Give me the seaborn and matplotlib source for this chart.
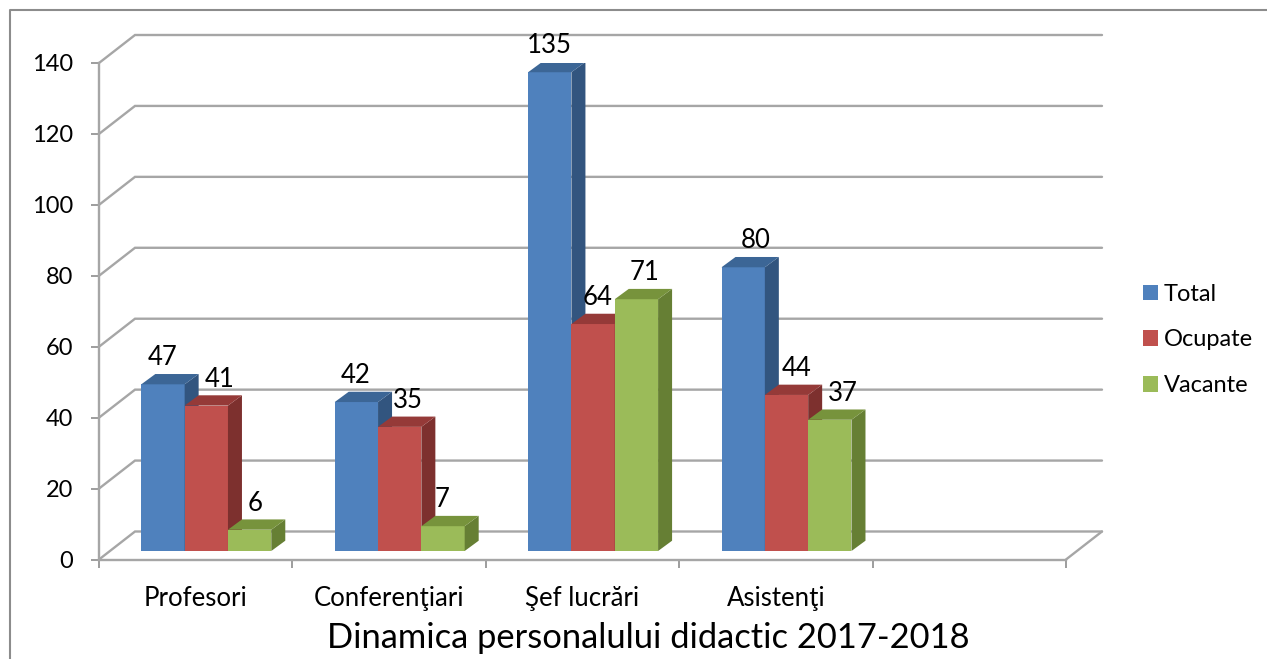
import matplotlib
matplotlib.use("Agg")
import matplotlib.pyplot as plt
import pandas as pd
import seaborn as sns
from matplotlib.lines import Line2D
from matplotlib.patches import Patch, Polygon

categories = ["Profesori", "Conferenţiari", "Şef lucrări", "Asistenţi"]
total = [47, 42, 135, 80]
ocupate = [41, 35, 64, 44]
vacante = [6, 7, 71, 37]
series_names = ["Total", "Ocupate", "Vacante"]
front_colors = ["#4F81BD", "#C0504D", "#9BBB59"]
top_colors = ["#3C6696", "#953A38", "#77933C"]
side_colors = ["#32557F", "#7D302E", "#667F34"]
y_ticks = [0, 20, 40, 60, 80, 100, 120, 140]
title = "Dinamica personalului didactic 2017-2018"
label_dx_px = [[0, -1, 0, 13], [13, 8, 4, 10], [6, -1, 8, 13]]

W, H = 1267, 659
L, R, B0, T0 = 99, 1066, 559.5, 63

sns.set_theme(style="white")
plt.rcParams["font.family"] = ["Lato", "DejaVu Sans"]
FS_Y = 17
FS_CAT = 18.5
FS_VAL = 18.5
FS_LEG = 17
GRAY = "#A6A6A6"

df = pd.DataFrame({
    "cat": categories * 3,
    "series": [s for s in series_names for _ in categories],
    "val": total + ocupate + vacante,
})

fig = plt.figure(figsize=(W / 100, H / 100), dpi=100, facecolor="white")
ax = fig.add_axes([L / W, (H - B0) / H, (R - L) / W, (B0 - T0) / H])
order = categories + [" "]
sns.barplot(data=df, x="cat", y="val", hue="series", order=order,
            hue_order=series_names, palette=front_colors, width=0.672,
            saturation=1, legend=False, ax=ax, linewidth=0, errorbar=None)
ax.set_xlim(-0.5, 4.5)
ax.set_ylim(0, 140)
ax.set_xlabel("")
ax.set_ylabel("")
ax.patch.set_alpha(0)

xpx = 5 / (R - L)          # data units per pixel
ypx = 140 / (B0 - T0)

# back wall, side wall and floor
WX, WY = 36 * xpx, 28 * ypx
for v in y_ticks:
    ax.plot([-0.5, -0.5 + WX, 4.5 + WX], [v, v + WY, v + WY], color=GRAY,
            lw=1.7, clip_on=False, zorder=1, solid_joinstyle="miter")
ax.plot([4.5, 4.5 + WX], [0, WY], color=GRAY, lw=1.7, clip_on=False, zorder=1)

# bars with their depth
SX, SY = 10.6 * xpx, 8.5 * ypx
DX, DY = 14 * xpx, 10.3 * ypx
for h, container in enumerate(ax.containers):
    z = 3 + h
    for i, patch in enumerate(container):
        v = patch.get_height()
        if not v == v:
            continue
        x0 = patch.get_x() + SX
        w = patch.get_width()
        patch.set_x(x0)
        patch.set_y(SY)
        patch.set_zorder(z)
        patch.set_linewidth(0)
        top = SY + v
        ax.add_patch(Polygon([(x0 + w, SY), (x0 + w + DX, SY + DY),
                              (x0 + w + DX, top + DY), (x0 + w, top)],
                             closed=True, fc=side_colors[h], ec="none", zorder=z))
        ax.add_patch(Polygon([(x0, top), (x0 + DX, top + DY),
                              (x0 + w + DX, top + DY), (x0 + w, top)],
                             closed=True, fc=top_colors[h], ec="none", zorder=z))
        ax.text(x0 + w / 2 + label_dx_px[h][i] * xpx, top + 19 * ypx, f"{v:.0f}",
                ha="center", va="baseline", fontsize=FS_VAL, color="black", zorder=10)

# axes
for s in ("top", "right"):
    ax.spines[s].set_visible(False)
for s in ("left", "bottom"):
    ax.spines[s].set_color(GRAY)
    ax.spines[s].set_linewidth(1.7)
    ax.spines[s].set_zorder(2)
ax.set_yticks(y_ticks)
ax.tick_params(axis="y", which="major", left=True, length=6, width=1.2, color="#8C8C8C",
               pad=12.7, labelsize=FS_Y, labelcolor="black")
ax.set_xticks([i - 0.5 for i in range(6)])
ax.set_xticklabels([])
ax.tick_params(axis="x", which="major", bottom=True, length=6, width=1.2, color="#8C8C8C")
ax.set_xticks(range(len(categories)), minor=True)
ax.set_xticklabels(categories, minor=True)
ax.tick_params(axis="x", which="minor", bottom=False, length=0, pad=19,
               labelsize=FS_CAT, labelcolor="black")

# legend
handles = [Patch(fc=c, ec="none", label=n) for c, n in zip(front_colors, series_names)]
fig.legend(handles=handles, loc="center left", bbox_to_anchor=(1143 / W, 1 - 340 / H),
           frameon=False, fontsize=FS_LEG, handlelength=0.635, handleheight=0.635,
           handletextpad=0.25, labelspacing=1.04, borderpad=0.0, borderaxespad=0.0,
           labelcolor="black")

# title and frame
fig.text(648.5 / W, 1 - 648 / H, title, ha="center", va="baseline", fontsize=24.8, color="black")
fig.add_artist(Line2D([10 / W, 10 / W, 1], [0, 1 - 10 / H, 1 - 10 / H],
                      color="#8C8C8C", lw=1.5, transform=fig.transFigure))

fig.savefig("out.png", dpi=100, facecolor="white")
